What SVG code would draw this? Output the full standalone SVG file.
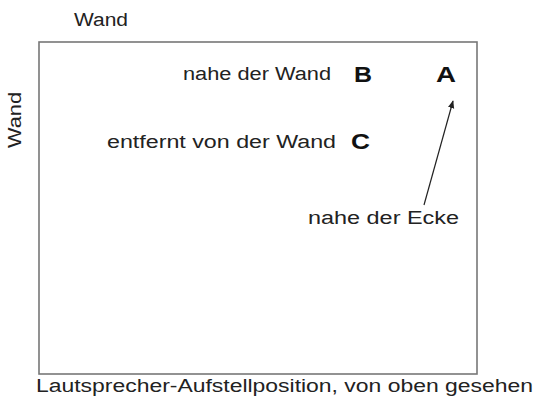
<svg xmlns="http://www.w3.org/2000/svg" width="534" height="404" viewBox="0 0 534 404">
<style>
.t{font-family:"Liberation Sans",Arial,sans-serif;font-size:18px;fill:#222}
.b{font-family:"Liberation Sans",Arial,sans-serif;font-size:22px;font-weight:bold;fill:#111}
</style>
<defs>
<marker id="ah" viewBox="0 0 10 10" refX="9" refY="5" markerWidth="8" markerHeight="8" orient="auto" markerUnits="userSpaceOnUse"><path d="M0,1 L10,5 L0,9 z" fill="#222"/></marker>
</defs>
<rect width="534" height="404" fill="#fff"/>
<g id="room"><rect x="39" y="42" width="438" height="332" fill="none" stroke="#777" stroke-width="1.6"/></g>
<g id="labels">
<text class="t" x="74" y="26" textLength="54" lengthAdjust="spacingAndGlyphs">Wand</text>
<text class="t" transform="translate(21,148) rotate(-90)" textLength="56" lengthAdjust="spacingAndGlyphs">Wand</text>
<text class="t" x="36" y="392" textLength="497" lengthAdjust="spacingAndGlyphs">Lautsprecher-Aufstellposition, von oben gesehen</text>
</g>
<g id="nodeB"><text class="t" x="183" y="80" textLength="148" lengthAdjust="spacingAndGlyphs">nahe der Wand</text><text class="b" x="354" y="82" textLength="18" lengthAdjust="spacingAndGlyphs">B</text></g>
<g id="nodeA"><text class="b" x="436" y="82" textLength="20" lengthAdjust="spacingAndGlyphs">A</text></g>
<g id="nodeC"><text class="t" x="107" y="148" textLength="229" lengthAdjust="spacingAndGlyphs">entfernt von der Wand</text><text class="b" x="351" y="149" textLength="19" lengthAdjust="spacingAndGlyphs">C</text></g>
<g id="nodeEcke"><text class="t" x="308" y="224" textLength="151" lengthAdjust="spacingAndGlyphs">nahe der Ecke</text></g>
<g id="connectors"><line x1="424" y1="205" x2="453" y2="101" stroke="#222" stroke-width="1.2" marker-end="url(#ah)"/></g>
</svg>
